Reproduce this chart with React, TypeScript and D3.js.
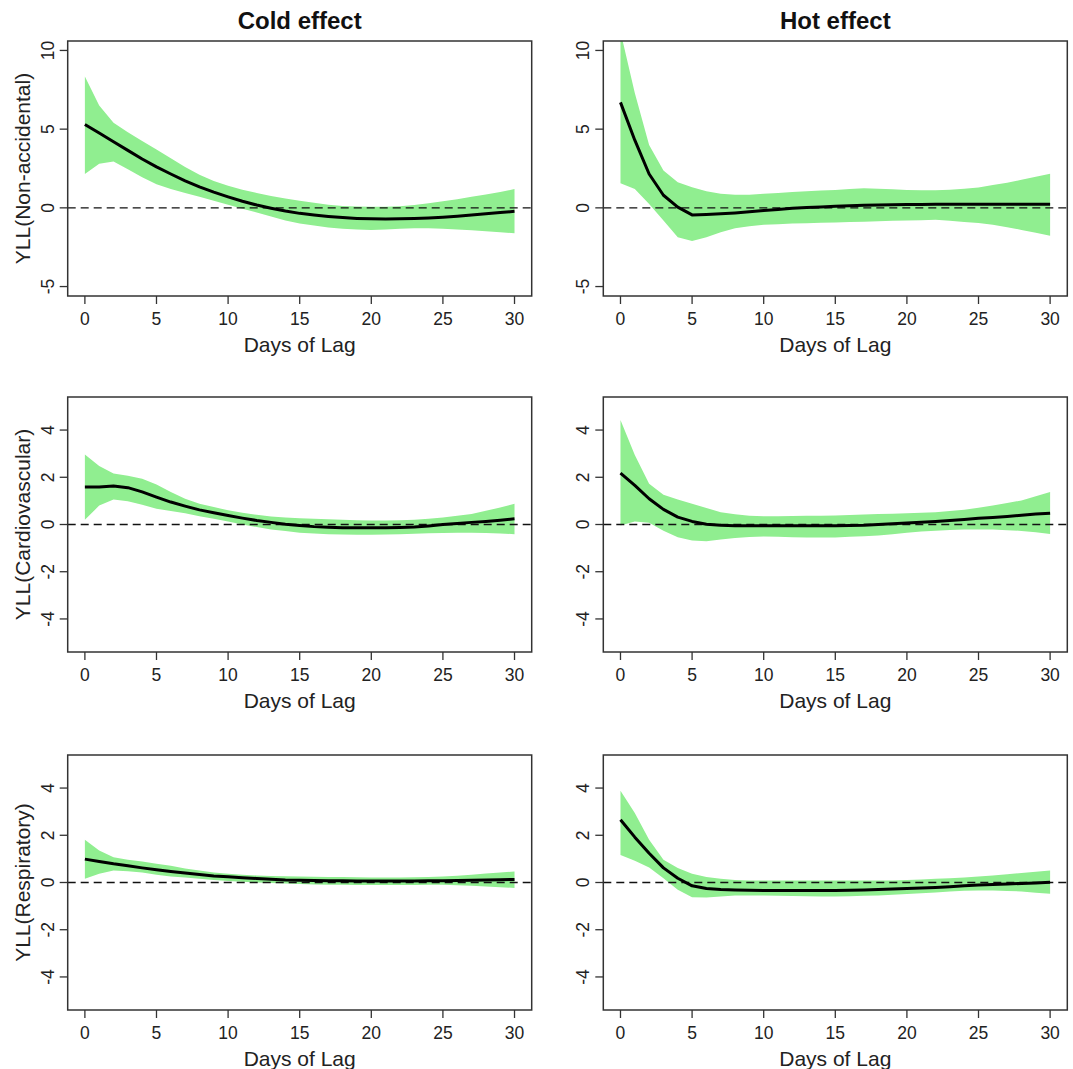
import * as d3 from "d3";

const LAGS = [0, 1, 2, 3, 4, 5, 6, 7, 8, 9, 10, 11, 12, 13, 14, 15, 16, 17, 18, 19, 20, 21, 22, 23, 24, 25, 26, 27, 28, 29, 30];
const X_TICKS = [0, 5, 10, 15, 20, 25, 30];
const Y_TICKS_TOP = [-5, 0, 5, 10];
const Y_TICKS_SMALL = [-4, -2, 0, 2, 4];
const COLUMN_TITLES = ["Cold effect", "Hot effect"];
const ROW_LABELS = ["YLL(Non-accidental)", "YLL(Cardiovascular)", "YLL(Respiratory)"];

// cold, non-accidental
const COLD_NA_FIT = [5.3, 4.75, 4.2, 3.65, 3.1, 2.6, 2.15, 1.72, 1.33, 1.0, 0.7, 0.42, 0.18, -0.02, -0.2, -0.35, -0.46, -0.55, -0.62, -0.67, -0.7, -0.71, -0.7, -0.68, -0.65, -0.6, -0.53, -0.46, -0.38, -0.3, -0.22];
const COLD_NA_HIGH = [8.35, 6.5, 5.4, 4.8, 4.25, 3.7, 3.15, 2.6, 2.1, 1.7, 1.4, 1.15, 0.95, 0.75, 0.6, 0.45, 0.32, 0.2, 0.12, 0.08, 0.07, 0.07, 0.1, 0.18, 0.3, 0.42, 0.55, 0.7, 0.85, 1.0, 1.2];
const COLD_NA_LOW = [2.15, 2.8, 2.95, 2.45, 1.95, 1.5, 1.2, 0.95, 0.7, 0.45, 0.2, -0.05, -0.3, -0.55, -0.8, -1.0, -1.12, -1.25, -1.32, -1.38, -1.4, -1.38, -1.32, -1.3, -1.3, -1.32, -1.37, -1.42, -1.48, -1.55, -1.62];

// hot, non-accidental
const HOT_NA_FIT = [6.7, 4.3, 2.15, 0.8, 0.05, -0.45, -0.42, -0.38, -0.32, -0.25, -0.17, -0.1, -0.03, 0.02, 0.06, 0.1, 0.13, 0.16, 0.18, 0.2, 0.22, 0.22, 0.23, 0.23, 0.23, 0.23, 0.23, 0.23, 0.23, 0.23, 0.23];
const HOT_NA_HIGH = [11.2, 7.3, 4.0, 2.37, 1.63, 1.31, 1.06, 0.9, 0.83, 0.83, 0.89, 0.95, 1.0, 1.05, 1.1, 1.14, 1.2, 1.25, 1.22, 1.18, 1.14, 1.12, 1.12, 1.15, 1.22, 1.3, 1.45, 1.6, 1.78, 1.97, 2.16];
const HOT_NA_LOW = [1.57, 1.2, 0.25, -0.8, -1.86, -2.1, -1.86, -1.55, -1.3, -1.17, -1.08, -1.04, -1.0, -0.98, -0.95, -0.93, -0.9, -0.88, -0.85, -0.82, -0.8, -0.78, -0.76, -0.82, -0.9, -0.97, -1.08, -1.23, -1.4, -1.58, -1.78];

// cold, cardiovascular
const COLD_CVD_FIT = [1.59, 1.59, 1.63, 1.56, 1.38, 1.16, 0.95, 0.78, 0.62, 0.5, 0.38, 0.27, 0.17, 0.09, 0.01, -0.04, -0.09, -0.12, -0.14, -0.14, -0.14, -0.14, -0.13, -0.11, -0.06, 0.0, 0.04, 0.09, 0.13, 0.18, 0.24];
const COLD_CVD_HIGH = [2.96, 2.48, 2.16, 2.06, 1.94, 1.69, 1.38, 1.09, 0.88, 0.74, 0.6, 0.5, 0.41, 0.34, 0.3, 0.27, 0.24, 0.22, 0.2, 0.18, 0.17, 0.17, 0.18, 0.2, 0.24, 0.3, 0.37, 0.45, 0.58, 0.72, 0.88];
const COLD_CVD_LOW = [0.2, 0.8, 1.06, 0.98, 0.84, 0.67, 0.57, 0.48, 0.35, 0.24, 0.13, 0.0, -0.11, -0.21, -0.28, -0.35, -0.38, -0.41, -0.42, -0.43, -0.43, -0.42, -0.41, -0.39, -0.37, -0.36, -0.35, -0.35, -0.36, -0.38, -0.41];

// hot, cardiovascular
const HOT_CVD_FIT = [2.18, 1.66, 1.09, 0.64, 0.31, 0.13, 0.01, -0.03, -0.05, -0.05, -0.05, -0.05, -0.05, -0.05, -0.05, -0.05, -0.04, -0.03, 0.0, 0.03, 0.06, 0.1, 0.13, 0.17, 0.21, 0.26, 0.3, 0.34, 0.39, 0.44, 0.48];
const HOT_CVD_HIGH = [4.43, 2.94, 1.73, 1.26, 1.06, 0.88, 0.7, 0.52, 0.43, 0.37, 0.35, 0.35, 0.36, 0.37, 0.37, 0.38, 0.4, 0.42, 0.44, 0.46, 0.48, 0.5, 0.52, 0.57, 0.62, 0.71, 0.81, 0.91, 1.02, 1.2, 1.38];
const HOT_CVD_LOW = [-0.04, 0.13, 0.07, -0.26, -0.54, -0.68, -0.71, -0.64, -0.57, -0.53, -0.51, -0.52, -0.54, -0.55, -0.55, -0.55, -0.52, -0.5, -0.47, -0.41, -0.35, -0.3, -0.26, -0.23, -0.21, -0.21, -0.21, -0.24, -0.27, -0.33, -0.4];

// cold, respiratory
const COLD_RESP_FIT = [0.99, 0.89, 0.79, 0.71, 0.62, 0.54, 0.47, 0.4, 0.34, 0.28, 0.24, 0.2, 0.17, 0.14, 0.11, 0.1, 0.08, 0.07, 0.07, 0.06, 0.06, 0.06, 0.06, 0.06, 0.07, 0.07, 0.08, 0.1, 0.11, 0.12, 0.13];
const COLD_RESP_HIGH = [1.81, 1.36, 1.07, 0.96, 0.89, 0.79, 0.71, 0.59, 0.51, 0.42, 0.37, 0.33, 0.3, 0.28, 0.26, 0.25, 0.24, 0.23, 0.23, 0.22, 0.21, 0.21, 0.21, 0.22, 0.23, 0.25, 0.29, 0.33, 0.38, 0.42, 0.47];
const COLD_RESP_LOW = [0.16, 0.37, 0.51, 0.48, 0.42, 0.33, 0.25, 0.21, 0.16, 0.11, 0.06, 0.03, 0.0, -0.02, -0.04, -0.06, -0.08, -0.09, -0.1, -0.11, -0.11, -0.11, -0.11, -0.11, -0.1, -0.1, -0.12, -0.14, -0.17, -0.2, -0.23];

// hot, respiratory
const HOT_RESP_FIT = [2.66, 1.92, 1.24, 0.62, 0.18, -0.14, -0.25, -0.3, -0.32, -0.33, -0.34, -0.34, -0.34, -0.34, -0.34, -0.34, -0.33, -0.32, -0.3, -0.28, -0.25, -0.23, -0.21, -0.18, -0.14, -0.11, -0.08, -0.06, -0.04, -0.02, 0.01];
const HOT_RESP_HIGH = [3.89, 2.94, 1.81, 0.96, 0.61, 0.37, 0.23, 0.16, 0.11, 0.09, 0.08, 0.08, 0.08, 0.08, 0.08, 0.08, 0.08, 0.08, 0.08, 0.09, 0.11, 0.13, 0.16, 0.18, 0.21, 0.25, 0.3, 0.35, 0.4, 0.46, 0.51];
const HOT_RESP_LOW = [1.17, 0.92, 0.64, 0.18, -0.31, -0.62, -0.64, -0.59, -0.55, -0.55, -0.55, -0.56, -0.57, -0.58, -0.59, -0.59, -0.58, -0.56, -0.55, -0.52, -0.49, -0.45, -0.42, -0.38, -0.35, -0.34, -0.34, -0.36, -0.38, -0.43, -0.48];

const FONT = "'Liberation Sans', Arial, Helvetica, sans-serif";
const COL_X = [67.7, 603.3];
const BOX_W = 464;
const ROW_Y = [41, 397, 755];
const BOX_H = 255;

const panels = [
  { row: 0, col: 0, fit: COLD_NA_FIT, low: COLD_NA_LOW, high: COLD_NA_HIGH, yDomain: [-5.6, 10.6], yTicks: Y_TICKS_TOP },
  { row: 0, col: 1, fit: HOT_NA_FIT, low: HOT_NA_LOW, high: HOT_NA_HIGH, yDomain: [-5.6, 10.6], yTicks: Y_TICKS_TOP },
  { row: 1, col: 0, fit: COLD_CVD_FIT, low: COLD_CVD_LOW, high: COLD_CVD_HIGH, yDomain: [-5.4, 5.4], yTicks: Y_TICKS_SMALL },
  { row: 1, col: 1, fit: HOT_CVD_FIT, low: HOT_CVD_LOW, high: HOT_CVD_HIGH, yDomain: [-5.4, 5.4], yTicks: Y_TICKS_SMALL },
  { row: 2, col: 0, fit: COLD_RESP_FIT, low: COLD_RESP_LOW, high: COLD_RESP_HIGH, yDomain: [-5.4, 5.4], yTicks: Y_TICKS_SMALL },
  { row: 2, col: 1, fit: HOT_RESP_FIT, low: HOT_RESP_LOW, high: HOT_RESP_HIGH, yDomain: [-5.4, 5.4], yTicks: Y_TICKS_SMALL },
];

function Panel({ p }: { p: (typeof panels)[number] }) {
  const left = COL_X[p.col];
  const top = ROW_Y[p.row];
  const w = BOX_W;
  const bottom = top + BOX_H;
  const x = d3.scaleLinear().domain([-1.2, 31.2]).range([left, left + w]);
  const y = d3.scaleLinear().domain(p.yDomain).range([bottom, top]);
  const band = d3
    .area<number>()
    .x((_, i) => x(LAGS[i]))
    .y0((_, i) => y(p.low[i]))
    .y1((_, i) => y(p.high[i]))(p.fit);
  const curve = d3
    .line<number>()
    .x((_, i) => x(LAGS[i]))
    .y((d) => y(d))(p.fit);
  const clipId = `clip-${p.row}-${p.col}`;

  return (
    <g>
      <clipPath id={clipId}>
        <rect x={left} y={top} width={w} height={BOX_H} />
      </clipPath>
      <g clipPath={`url(#${clipId})`}>
        <path d={band ?? ""} fill="#90ee90" />
        <line x1={left} x2={left + w} y1={y(0)} y2={y(0)} stroke="#111" strokeWidth={1.4} strokeDasharray="8,5" />
        <path d={curve ?? ""} fill="none" stroke="#000" strokeWidth={3} strokeLinejoin="round" />
      </g>
      <rect x={left} y={top} width={w} height={BOX_H} fill="none" stroke="#333" strokeWidth={1.5} />

      {X_TICKS.map((t) => (
        <g key={`x${t}`}>
          <line x1={x(t)} x2={x(t)} y1={bottom} y2={bottom + 8} stroke="#333" strokeWidth={1.3} />
          <text x={x(t)} y={bottom + 23} textAnchor="middle" dominantBaseline="central" fontSize={17.5} fill="#222">
            {t}
          </text>
        </g>
      ))}
      <text x={left + w / 2} y={bottom + 48} textAnchor="middle" dominantBaseline="central" fontSize={21} fill="#222">
        Days of Lag
      </text>

      {p.yTicks.map((t) => (
        <g key={`y${t}`}>
          <line x1={left - 8} x2={left} y1={y(t)} y2={y(t)} stroke="#333" strokeWidth={1.3} />
          <text
            transform={`translate(${left - 20},${y(t)}) rotate(-90)`}
            textAnchor="middle"
            dominantBaseline="central"
            fontSize={17.5}
            fill="#222"
          >
            {t}
          </text>
        </g>
      ))}

      {p.col === 0 ? (
        <text
          transform={`translate(${left - 45},${top + BOX_H / 2}) rotate(-90)`}
          textAnchor="middle"
          dominantBaseline="central"
          fontSize={21}
          fill="#222"
        >
          {ROW_LABELS[p.row]}
        </text>
      ) : null}

      {p.row === 0 ? (
        <text x={left + w / 2} y={20} textAnchor="middle" dominantBaseline="central" fontSize={24} fontWeight="bold" fill="#111">
          {COLUMN_TITLES[p.col]}
        </text>
      ) : null}
    </g>
  );
}

export default function App() {
  return (
    <svg
      width={1073}
      height={1069}
      viewBox="0 0 1073 1069"
      style={{ position: "absolute", left: 0, top: 0, background: "#fff" }}
      fontFamily={FONT}
    >
      <rect width={1073} height={1069} fill="#fff" />
      {panels.map((p) => (
        <Panel key={`${p.row}-${p.col}`} p={p} />
      ))}
    </svg>
  );
}
